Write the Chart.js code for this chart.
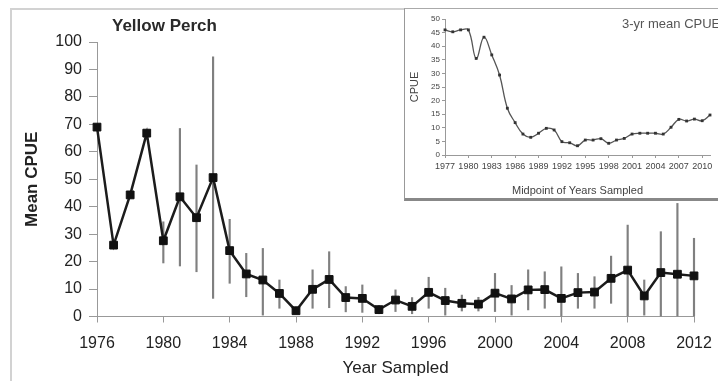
<!DOCTYPE html>
<html>
<head>
<meta charset="utf-8">
<script src="https://cdn.jsdelivr.net/npm/chart.js@4/dist/chart.umd.min.js"></script>
<style>
  html, body { margin: 0; padding: 0; background: #fff; }
  body { width: 718px; height: 381px; position: relative; overflow: hidden; font-family: "Liberation Sans", Arial, sans-serif; }
  #frame { position: absolute; left: 10px; top: 8px; width: 720px; height: 380px; border-left: 2px solid #d2d2d2; border-top: 2px solid #d2d2d2; }
  #main { position: absolute; left: 0; top: 0; }
  #title { position: absolute; left: 112px; top: 16px; font-weight: bold; font-size: 17px; line-height: 20px; color: #2a2a2a; }
  #inset { position: absolute; left: 404px; top: 8px; width: 320px; height: 189px; background: #fff; border-left: 1px solid #999; border-top: 1px solid #aaa; border-bottom: 3px solid #888; }
  #insetChart { position: absolute; left: 0; top: 0; }
  #insetTitle { position: absolute; left: 217px; top: 7px; font-size: 13px; line-height: 15px; color: #555; white-space: nowrap; }
</style>
</head>
<body>
<div id="frame"></div>
<canvas id="main" width="718" height="381"></canvas>
<div id="title">Yellow Perch</div>
<div id="inset">
  <canvas id="insetChart" width="313" height="189"></canvas>
  <div id="insetTitle">3-yr mean CPUE</div>
</div>
<script>
// yearly survey means with error bar ranges
const years = [1976, 1977, 1978, 1979, 1980, 1981, 1982, 1983, 1984, 1985, 1986, 1987, 1988,
  1989, 1990, 1991, 1992, 1993, 1994, 1995, 1996, 1997, 1998, 1999, 2000, 2001, 2002, 2003,
  2004, 2005, 2006, 2007, 2008, 2009, 2010, 2011, 2012];
const meanCpue = [69, 26, 44.3, 66.8, 27.6, 43.6, 36, 50.6, 24, 15.5, 13.3, 8.4, 2.1,
  9.9, 13.5, 6.9, 6.6, 2.5, 6, 3.7, 8.8, 5.8, 4.8, 4.5, 8.5, 6.4, 9.7, 9.8,
  6.6, 8.7, 8.9, 13.9, 16.9, 7.5, 16, 15.4, 14.8];
const errLow = [null, null, null, null, 19.5, 18.4, 16.3, 6.6, 12.1, 7.2, 0.5, 3, 1,
  3, 3.2, 1.7, 1.5, 1, 1.8, 1, 3, 0.5, 2, 2, 1.8, 0.5, 2.4, 3,
  0, 3, 3, 4.8, 0, 0.5, 0, 0, 0];
const errHigh = [null, null, null, null, 34.5, 68.5, 55.2, 94.6, 35.4, 23, 24.8, 13.3, 3.5,
  17, 23.6, 10.9, 11.5, 4, 9.7, 6.9, 14.3, 10.3, 7.8, 7, 15.7, 11.3, 17, 16.3,
  18.1, 15.7, 14.5, 22, 33.3, 13.3, 30.9, 41.2, 28.5];
const yearTicks = [1976, 1980, 1984, 1988, 1992, 1996, 2000, 2004, 2008, 2012];
const cpueTicks = [0, 10, 20, 30, 40, 50, 60, 70, 80, 90, 100];

// 3-year running mean, plotted at the middle year
const midYears = [1977, 1978, 1979, 1980, 1981, 1982, 1983, 1984, 1985, 1986, 1987, 1988,
  1989, 1990, 1991, 1992, 1993, 1994, 1995, 1996, 1997, 1998, 1999, 2000, 2001, 2002,
  2003, 2004, 2005, 2006, 2007, 2008, 2009, 2010, 2011];
const meanCpue3yr = [46, 45.3, 46, 46, 35.5, 43.3, 36.8, 29.4, 17.2, 11.9, 7.7, 6.5,
  8, 9.8, 9.2, 4.9, 4.5, 3.4, 5.5, 5.5, 6, 4.3, 5.5, 6.1, 7.7, 8,
  8, 8, 7.7, 10.2, 13.1, 12.5, 13.2, 12.6, 14.7];
const midYearTicks = [1977, 1980, 1983, 1986, 1989, 1992, 1995, 1998, 2001, 2004, 2007, 2010];
const cpue3yrTicks = [0, 5, 10, 15, 20, 25, 30, 35, 40, 45, 50];

const family = "'Liberation Sans', Arial, sans-serif";
const axisGray = '#999';
const textColor = '#222';

const meanPoints = years.map((yr, i) => ({ x: yr, y: meanCpue[i] }));
const errPoints = years
  .map((yr, i) => (errLow[i] == null ? null : { x: yr, y: [errLow[i], errHigh[i]] }))
  .filter(p => p !== null);

// keep the plot edges where the layout padding puts them (no extra room for edge labels)
function fixHeight(h) {
  return s => { s.height = h; s.paddingLeft = 0; s.paddingRight = 0; };
}

new Chart(document.getElementById('main'), {
  type: 'line',
  data: {
    datasets: [
      {
        type: 'line',
        data: meanPoints,
        borderColor: '#1c1c1c',
        borderWidth: 2.5,
        tension: 0,
        pointStyle: 'rect',
        pointRadius: 5.5,
        pointBorderWidth: 1,
        pointBackgroundColor: '#111',
        pointBorderColor: '#111',
        clip: false,
        order: 1
      },
      {
        type: 'bar',
        data: errPoints,
        backgroundColor: '#808080',
        borderWidth: 0,
        barThickness: 1.5,
        grouped: false,
        clip: false,
        order: 2
      }
    ]
  },
  options: {
    responsive: false,
    animation: false,
    layout: { padding: { left: 0, right: 24, top: 42, bottom: 0 } },
    plugins: { legend: { display: false }, tooltip: { enabled: false } },
    scales: {
      x: {
        type: 'linear',
        min: 1976,
        max: 2012,
        offset: false,
        afterBuildTicks: s => { s.ticks = yearTicks.map(v => ({ value: v })); },
        afterFit: fixHeight(64.5),
        grid: { drawOnChartArea: false, tickLength: 6, color: axisGray, offset: false },
        border: { color: axisGray },
        ticks: { padding: 11, maxRotation: 0, autoSkip: false, font: { size: 16, family }, color: textColor, callback: v => String(v) },
        title: { display: true, text: 'Year Sampled', color: textColor, font: { size: 17, family }, padding: { top: 0, bottom: 2 } }
      },
      y: {
        min: 0,
        max: 100,
        afterBuildTicks: s => { s.ticks = cpueTicks.map(v => ({ value: v })); },
        afterFit: s => { s.width = 97; },
        grid: { drawOnChartArea: false, tickLength: 8, color: axisGray },
        border: { color: axisGray },
        ticks: { padding: 7, font: { size: 16, family }, color: textColor },
        title: { display: true, text: 'Mean CPUE', color: textColor, font: { size: 17, weight: 'bold', family }, padding: { top: 22, bottom: 0 } }
      }
    }
  }
});

new Chart(document.getElementById('insetChart'), {
  type: 'line',
  data: {
    datasets: [{
      data: midYears.map((yr, i) => ({ x: yr, y: meanCpue3yr[i] })),
      borderColor: '#555',
      borderWidth: 1.3,
      tension: 0.4,
      pointStyle: 'rect',
      pointRadius: 2,
      pointBorderWidth: 0,
      pointBackgroundColor: '#333',
      clip: false
    }]
  },
  options: {
    responsive: false,
    animation: false,
    layout: { padding: { left: 0, right: 8, top: 10, bottom: 0 } },
    plugins: { legend: { display: false }, tooltip: { enabled: false } },
    scales: {
      x: {
        type: 'linear',
        min: 1977,
        max: 2011,
        afterBuildTicks: s => { s.ticks = midYearTicks.map(v => ({ value: v })); },
        afterFit: fixHeight(43),
        grid: { drawOnChartArea: false, tickLength: 3, color: axisGray },
        border: { color: axisGray },
        ticks: { padding: 3.6, maxRotation: 0, autoSkip: false, font: { size: 9, family }, color: '#444', callback: v => String(v) },
        title: { display: true, text: 'Midpoint of Years Sampled', color: '#444', font: { size: 11, family }, padding: { top: 0, bottom: 0 } }
      },
      y: {
        min: 0,
        max: 50,
        afterBuildTicks: s => { s.ticks = cpue3yrTicks.map(v => ({ value: v })); },
        afterFit: s => { s.width = 40; },
        grid: { drawOnChartArea: false, tickLength: 3, color: axisGray },
        border: { color: axisGray },
        ticks: { padding: 2, font: { size: 8, family }, color: '#444' },
        title: { display: true, text: 'CPUE', color: '#444', font: { size: 11, family }, padding: { top: 3.4, bottom: 0 } }
      }
    }
  }
});
</script>
</body>
</html>
